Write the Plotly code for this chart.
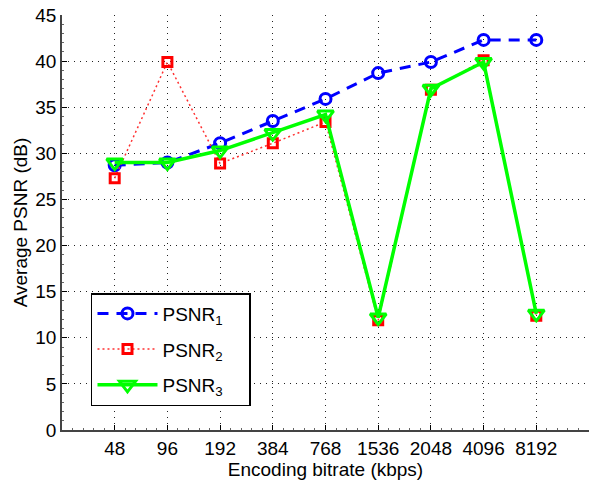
import plotly.graph_objects as go

bitrates = ["48", "96", "192", "384", "768", "1536", "2048", "4096", "8192"]
psnr1 = [28.7, 29.0, 31.1, 33.5, 35.9, 38.7, 39.9, 42.3, 42.3]
psnr2 = [27.3, 39.9, 28.9, 31.1, 33.4, 11.9, 36.9, 40.1, 12.4]
psnr3 = [29.0, 29.0, 30.3, 32.2, 34.2, 12.2, 37.0, 39.9, 12.6]
yticks = [0, 5, 10, 15, 20, 25, 30, 35, 40, 45]

xpos = list(range(1, len(bitrates) + 1))
PAD = "&nbsp;" * 4

fig = go.Figure()
fig.add_trace(go.Scatter(
    x=xpos, y=psnr1, mode="lines+markers", name="PSNR<sub>1</sub>" + PAD, legendgroup="a",
    line=dict(color="#0000FF", width=3, dash="11px,8px"),
    marker=dict(symbol="circle-open", size=11, color="#0000FF", line=dict(width=3)),
))
fig.add_trace(go.Scatter(
    x=xpos, y=psnr2, mode="lines+markers", name="PSNR<sub>2</sub>" + PAD, legendgroup="b",
    line=dict(color="#FF3030", width=1.5, dash="2px,3px"),
    marker=dict(symbol="square-open", size=9, color="#FF0000", line=dict(width=3)),
))
fig.add_trace(go.Scatter(
    x=xpos, y=psnr3, mode="lines+markers", name="PSNR<sub>3</sub>" + PAD, legendgroup="c",
    line=dict(color="#00FF00", width=3.5),
    marker=dict(symbol="triangle-down-open", size=14, color="#00FF00", line=dict(width=3)),
))

FAM = "Liberation Sans, Arial, Helvetica, sans-serif"
font = dict(family=FAM, size=19, color="black")

fig.update_layout(
    width=591, height=482,
    margin=dict(l=62, r=2, t=15, b=52),
    paper_bgcolor="white", plot_bgcolor="white",
    font=font,
    showlegend=True,
    legend=dict(
        x=0.055, y=0.33, xanchor="left", yanchor="top",
        bordercolor="black", borderwidth=1.5, bgcolor="white",
        font=dict(family=FAM, size=19, color="black"),
        tracegroupgap=8, itemwidth=60,
    ),
    xaxis=dict(
        range=[0, 10], tickmode="array",
        tickvals=xpos + [10], ticktext=bitrates + [""],
        showgrid=True, gridcolor="#222", griddash="1px,5px", gridwidth=1,
        showline=True, linecolor="#444", linewidth=1.5,
        ticks="inside", ticklen=5, tickcolor="black",
        minor=dict(dtick=0.2, ticks="inside", ticklen=2, tickcolor="#666", showgrid=False),
        zeroline=False, mirror=False, automargin=False,
        title=dict(text="Encoding bitrate (kbps)", standoff=1, font=font),
        tickfont=font,
    ),
    yaxis=dict(
        range=[0, 45], tickmode="array", tickvals=yticks,
        showgrid=True, gridcolor="#222", griddash="1px,5px", gridwidth=1,
        showline=True, linecolor="#444", linewidth=1.5,
        ticks="inside", ticklen=5, tickcolor="black",
        minor=dict(dtick=1, ticks="inside", ticklen=2, tickcolor="#666", showgrid=False),
        zeroline=False, mirror=False, automargin=False,
        title=dict(text="Average PSNR (dB)", standoff=3, font=font),
        tickfont=font,
    ),
)

fig.write_html(
    "out.html",
    config={"displayModeBar": False},
    post_script="document.body.style.margin='0';document.body.style.padding='0';",
)
